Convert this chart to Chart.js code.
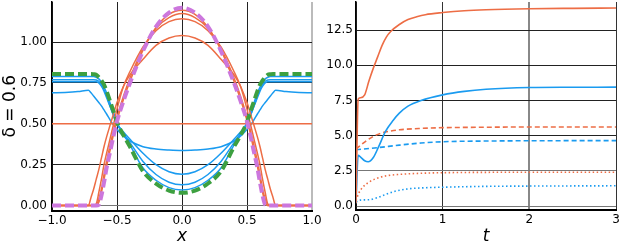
<!DOCTYPE html>
<html>
<head>
<meta charset="utf-8">
<script src="https://cdn.jsdelivr.net/npm/chart.js@4.4.0/dist/chart.umd.min.js"></script>
<style>
  html, body { margin: 0; padding: 0; background: #fff; }
  #wrap { position: relative; width: 623px; height: 249px; overflow: hidden; }
  canvas { position: absolute; top: 0; }
  #left { left: 0; }
  #right { left: 320px; }
</style>
</head>
<body>
<div id="wrap">
  <canvas id="left" width="330" height="249"></canvas>
  <canvas id="right" width="303" height="249"></canvas>
</div>
<script>
// ---- left panel: profiles over x ----
const xGrid = [-1, -0.9, -0.8, -0.72, -0.7, -0.68, -0.66, -0.64, -0.62, -0.6, -0.58, -0.55, -0.52, -0.5, -0.45, -0.4, -0.3, -0.2, -0.1, 0,
  0.1, 0.2, 0.3, 0.4, 0.45, 0.5, 0.52, 0.55, 0.58, 0.6, 0.62, 0.64, 0.66, 0.68, 0.7, 0.72, 0.8, 0.9, 1];

const rhoFinal = [0, 0, 0, 0, 0, 0, 0, 0.005, 0.06, 0.14, 0.23, 0.34, 0.45, 0.515, 0.64, 0.75, 0.945, 1.095, 1.18, 1.21,
  1.18, 1.095, 0.945, 0.75, 0.64, 0.515, 0.45, 0.34, 0.23, 0.14, 0.06, 0.005, 0, 0, 0, 0, 0, 0, 0];
const rho4 = [0, 0, 0, 0, 0, 0, 0, 0.02, 0.08, 0.16, 0.24, 0.35, 0.46, 0.52, 0.65, 0.76, 0.95, 1.09, 1.17, 1.195,
  1.17, 1.09, 0.95, 0.76, 0.65, 0.52, 0.46, 0.35, 0.24, 0.16, 0.08, 0.02, 0, 0, 0, 0, 0, 0, 0];
const rho3 = [0, 0, 0, 0, 0, 0, 0, 0.04, 0.10, 0.19, 0.27, 0.38, 0.48, 0.54, 0.67, 0.78, 0.96, 1.085, 1.15, 1.175,
  1.15, 1.085, 0.96, 0.78, 0.67, 0.54, 0.48, 0.38, 0.27, 0.19, 0.10, 0.04, 0, 0, 0, 0, 0, 0, 0];
const rho2 = [0, 0, 0, 0, 0, 0, 0.01, 0.08, 0.16, 0.25, 0.32, 0.42, 0.52, 0.59, 0.73, 0.82, 0.97, 1.07, 1.125, 1.143,
  1.125, 1.07, 0.97, 0.82, 0.73, 0.59, 0.52, 0.42, 0.32, 0.25, 0.16, 0.08, 0.01, 0, 0, 0, 0, 0, 0];
const rho1 = [0, 0, 0, 0, 0.05, 0.10, 0.16, 0.22, 0.29, 0.36, 0.42, 0.50, 0.58, 0.63, 0.73, 0.80, 0.895, 0.98, 1.025, 1.04,
  1.025, 0.98, 0.895, 0.80, 0.73, 0.63, 0.58, 0.50, 0.42, 0.36, 0.29, 0.22, 0.16, 0.10, 0.05, 0, 0, 0, 0];
const rhoInitX = [-1, 1];
const rhoInit = [0.5, 0.5];

const cFinal = [0.805, 0.805, 0.805, 0.805, 0.805, 0.803, 0.80, 0.785, 0.765, 0.74, 0.70, 0.63, 0.56, 0.51, 0.43, 0.36, 0.21, 0.135, 0.092, 0.078,
  0.092, 0.135, 0.21, 0.36, 0.43, 0.51, 0.56, 0.63, 0.70, 0.74, 0.765, 0.785, 0.80, 0.803, 0.805, 0.805, 0.805, 0.805, 0.805];
const c4 = [0.79, 0.79, 0.79, 0.79, 0.79, 0.79, 0.785, 0.775, 0.755, 0.725, 0.69, 0.62, 0.555, 0.51, 0.435, 0.37, 0.23, 0.155, 0.11, 0.096,
  0.11, 0.155, 0.23, 0.37, 0.435, 0.51, 0.555, 0.62, 0.69, 0.725, 0.755, 0.775, 0.785, 0.79, 0.79, 0.79, 0.79, 0.79, 0.79];
const c3 = [0.77, 0.77, 0.77, 0.77, 0.77, 0.77, 0.768, 0.76, 0.74, 0.71, 0.67, 0.60, 0.54, 0.50, 0.44, 0.385, 0.27, 0.19, 0.143, 0.127,
  0.143, 0.19, 0.27, 0.385, 0.44, 0.50, 0.54, 0.60, 0.67, 0.71, 0.74, 0.76, 0.768, 0.77, 0.77, 0.77, 0.77, 0.77, 0.77];
const c2 = [0.757, 0.757, 0.757, 0.757, 0.757, 0.757, 0.757, 0.75, 0.73, 0.70, 0.66, 0.60, 0.535, 0.50, 0.45, 0.405, 0.32, 0.25, 0.207, 0.192,
  0.207, 0.25, 0.32, 0.405, 0.45, 0.50, 0.535, 0.60, 0.66, 0.70, 0.73, 0.75, 0.757, 0.757, 0.757, 0.757, 0.757, 0.757, 0.757];
const c1 = [0.69, 0.692, 0.697, 0.705, 0.69, 0.67, 0.65, 0.63, 0.61, 0.585, 0.56, 0.52, 0.485, 0.465, 0.425, 0.395, 0.36, 0.346, 0.34, 0.337,
  0.34, 0.346, 0.36, 0.395, 0.425, 0.465, 0.485, 0.52, 0.56, 0.585, 0.61, 0.63, 0.65, 0.67, 0.69, 0.705, 0.697, 0.692, 0.69];

const leftXTicks = [-1, -0.5, 0, 0.5, 1];
const leftYTicks = [0, 0.25, 0.5, 0.75, 1];

// ---- right panel: quantities over t ----
const tOrangeSolid = [0, 0.025, 0.05, 0.1, 0.15, 0.2, 0.25, 0.3, 0.35, 0.4, 0.5, 0.6, 0.7, 0.8, 1.0, 1.25, 1.5, 2, 2.5, 3];
const orangeSolid = [0.2, 7.6, 7.7, 7.9, 8.9, 9.8, 10.6, 11.4, 12.0, 12.4, 12.9, 13.25, 13.45, 13.6, 13.75, 13.88, 13.95, 14.02, 14.05, 14.07];
const tBlueSolid = [0, 0.025, 0.05, 0.1, 0.14, 0.2, 0.26, 0.34, 0.43, 0.5, 0.6, 0.75, 1.0, 1.25, 1.5, 2, 2.5, 3];
const blueSolid = [0.2, 3.6, 3.5, 3.22, 3.15, 3.45, 4.2, 5.3, 6.1, 6.6, 7.1, 7.5, 7.9, 8.15, 8.3, 8.42, 8.44, 8.45];
const tOrangeDash = [0, 0.05, 0.1, 0.2, 0.3, 0.4, 0.5, 0.75, 1, 1.5, 2, 3];
const orangeDash = [4.05, 4.3, 4.55, 4.95, 5.2, 5.33, 5.42, 5.52, 5.57, 5.6, 5.62, 5.62];
const tBlueDash = [0, 0.25, 0.5, 0.75, 1, 1.5, 2, 3];
const blueDash = [4.0, 4.15, 4.33, 4.48, 4.57, 4.62, 4.64, 4.65];
const tOrangeDot = [0, 0.03, 0.08, 0.15, 0.24, 0.35, 0.5, 0.75, 1, 2, 3];
const orangeDot = [0.4, 0.9, 1.35, 1.7, 1.97, 2.15, 2.25, 2.33, 2.37, 2.4, 2.4];
const tBlueDot = [0, 0.05, 0.15, 0.25, 0.35, 0.45, 0.6, 0.8, 1, 1.5, 2, 3];
const blueDot = [0.3, 0.42, 0.45, 0.6, 0.85, 1.05, 1.22, 1.3, 1.34, 1.4, 1.42, 1.44];

const rightXTicks = [0, 1, 2, 3];
const rightYTicks = [0, 2.5, 5, 7.5, 10, 12.5];

// ---- styling ----
const ORANGE = '#ED6D45';
const BLUE = '#1A9BF0';
const GREEN = '#3DA040';
const VIOLET = '#CC77DD';
const GRID = '#222';

Chart.defaults.font.family = '"DejaVu Sans", sans-serif';
Chart.defaults.font.size = 12;
Chart.defaults.color = '#000';

function series(xs, ys, color, width, dash) {
  return {
    data: xs.map((x, i) => ({ x: x, y: ys[i] })),
    borderColor: color,
    borderWidth: width,
    borderDash: dash || [],
    pointRadius: 0,
    fill: false,
    cubicInterpolationMode: 'monotone',
  };
}
function fixY(w) { return (s) => { s.width = w; s.paddingTop = 0; s.paddingBottom = 0; }; }
function fixX(h) { return (s) => { s.height = h; s.paddingLeft = 0; s.paddingRight = 0; }; }
function useTicks(vals) { return (s) => { s.ticks = vals.map((v) => ({ value: v })); }; }

const commonOpts = {
  responsive: false,
  animation: false,
  events: [],
  plugins: { legend: { display: false }, tooltip: { enabled: false } },
};

// first dataset is drawn on top
new Chart(document.getElementById('left'), {
  type: 'line',
  data: {
    datasets: [
      series(xGrid, rhoFinal, VIOLET, 4, [9, 4]),
      series(xGrid, cFinal, GREEN, 4, [9, 4]),
      series(xGrid, rho4, ORANGE, 1.5),
      series(xGrid, rho3, ORANGE, 1.5),
      series(xGrid, rho2, ORANGE, 1.5),
      series(xGrid, rho1, ORANGE, 1.5),
      series(rhoInitX, rhoInit, ORANGE, 1.5),
      series(xGrid, c4, BLUE, 1.5),
      series(xGrid, c3, BLUE, 1.5),
      series(xGrid, c2, BLUE, 1.5),
      series(xGrid, c1, BLUE, 1.5),
    ],
  },
  options: Object.assign({}, commonOpts, {
    layout: { padding: { top: 2, right: 18, bottom: 0, left: 0 } },
    scales: {
      x: {
        type: 'linear', min: -1, max: 1,
        afterBuildTicks: useTicks(leftXTicks), afterFit: fixX(38.5),
        grid: { drawTicks: false, color: (c) => (c.tick && c.tick.value === 1 ? '#bbb' : GRID), lineWidth: (c) => (c.tick && c.tick.value === 1 ? 2 : 1) },
        border: { color: '#000', width: 2 },
        ticks: { padding: 3, maxRotation: 0, autoSkip: false, callback: (v) => (v < 0 ? '\u2212' : '') + Math.abs(v).toFixed(1) },
        title: { display: true, text: 'x', font: { size: 17, style: 'italic' }, padding: { bottom: 2 } },
      },
      y: {
        type: 'linear', min: -0.03, max: 1.245,
        afterBuildTicks: useTicks(leftYTicks), afterFit: fixY(52),
        grid: { drawTicks: false, color: (c) => (c.tick && c.tick.value === 0 ? '#777' : GRID) },
        border: { color: '#000', width: 1.5 },
        ticks: { padding: 5, autoSkip: false, callback: (v) => v.toFixed(2) },
        title: { display: true, text: '\u03b4 = 0.6', font: { size: 17 }, padding: { top: 0 } },
      },
    },
  }),
});

new Chart(document.getElementById('right'), {
  type: 'line',
  data: {
    datasets: [
      series(tOrangeSolid, orangeSolid, ORANGE, 1.6),
      series(tBlueSolid, blueSolid, BLUE, 1.6),
      series(tOrangeDash, orangeDash, ORANGE, 1.6, [5, 3]),
      series(tBlueDash, blueDash, BLUE, 1.6, [5, 3]),
      series(tOrangeDot, orangeDot, ORANGE, 1.6, [1.5, 2.5]),
      series(tBlueDot, blueDot, BLUE, 1.6, [1.5, 2.5]),
    ],
  },
  options: Object.assign({}, commonOpts, {
    layout: { padding: { top: 2, right: 7, bottom: 0, left: 0 } },
    scales: {
      x: {
        type: 'linear', min: 0, max: 3,
        afterBuildTicks: useTicks(rightXTicks), afterFit: fixX(39),
        grid: { drawTicks: false, color: (c) => (c.tick && c.tick.value === 2 ? '#888' : '#333'), lineWidth: (c) => (c.tick && c.tick.value === 2 ? 2 : 1) },
        border: { color: '#000', width: 2 },
        ticks: { padding: 3, maxRotation: 0, autoSkip: false, callback: (v) => String(v) },
        title: { display: true, text: 't', font: { size: 17, style: 'italic' }, padding: { bottom: 2 } },
      },
      y: {
        type: 'linear', min: -0.28, max: 14.5,
        afterBuildTicks: useTicks(rightYTicks), afterFit: fixY(36),
        grid: { drawTicks: false, color: (c) => (c.tick && c.tick.value <= 2.5 ? '#777' : GRID) },
        border: { color: '#000', width: 1.5 },
        ticks: { padding: 3, autoSkip: false, callback: (v) => v.toFixed(1) },
      },
    },
  }),
});
</script>
</body>
</html>
